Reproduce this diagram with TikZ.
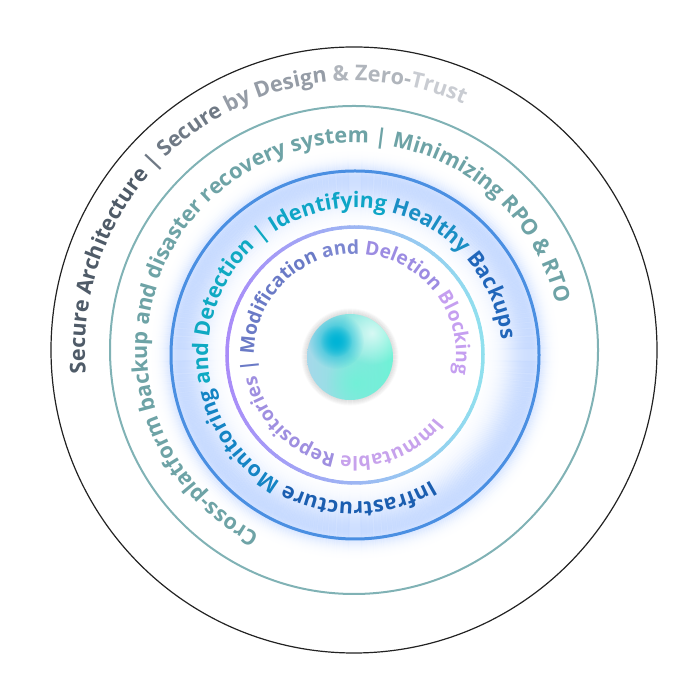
\documentclass[tikz,border=0pt]{standalone}
\usepackage{fontspec}
\setmainfont{Open Sans}
\usetikzlibrary{decorations.text,fadings}

\definecolor{secA}{HTML}{4F5B68}
\definecolor{secB}{HTML}{6F7985}
\definecolor{secC}{HTML}{959CA6}
\definecolor{secD}{HTML}{B0B5BC}
\definecolor{secE}{HTML}{C9CCD2}
\definecolor{tealtxt}{HTML}{6EA3A6}
\definecolor{infA}{HTML}{1B5EB0}
\definecolor{infB}{HTML}{1484C4}
\definecolor{infC}{HTML}{0FA9C2}
\definecolor{infD}{HTML}{0EA5C6}
\definecolor{infE}{HTML}{1A8EC4}
\definecolor{infF}{HTML}{2166BA}
\definecolor{immA}{HTML}{C7A2EC}
\definecolor{immB}{HTML}{9F8FE0}
\definecolor{immC}{HTML}{6A7AC6}
\definecolor{immD}{HTML}{7B86D0}
\definecolor{immE}{HTML}{9C8CE2}
\definecolor{immF}{HTML}{C59FF0}
\definecolor{outerline}{HTML}{222222}
\definecolor{tealline}{HTML}{80B2B5}
\definecolor{blueline}{HTML}{4A8FE2}
\definecolor{innerP}{HTML}{A98CF8}
\definecolor{innerC}{HTML}{90E0EE}
\definecolor{glowblue}{HTML}{C2D7FF}
\definecolor{ballcyan}{HTML}{00B4D6}
\definecolor{ballmint}{HTML}{6EF2D6}
\definecolor{ballblue}{HTML}{A6D8EA}
\definecolor{ballshadow}{HTML}{C8C8C8}

\newcommand{\ringfont}[1]{\bfseries\fontsize{#1}{#1}\selectfont}

\tikzfading[name=softblob, inner color=transparent!0, outer color=transparent!100]

\tikzset{
  ringtext/.style={decorate, decoration={text along path, text align=center,
      text format delimiters={[}{]}, text={#1}}},
  outerring/.style={draw=outerline, line width=1.2pt},
  tealring/.style={draw=tealline, line width=2pt},
  bluering/.style={draw=blueline, line width=3pt},
}

\begin{document}
\begin{tikzpicture}[x=1pt,y=1pt]
  \useasboundingbox (0,0) rectangle (700,700);
  \coordinate (ctr) at (354,350);
  \coordinate (core) at (355,345);
  \coordinate (ball) at (350,343);

  % glow round the blue ring
  \foreach \r in {128,...,218} {
    \pgfmathsetmacro\op{\r<176 ? 0.85*exp(-((\r-176)/24)*((\r-176)/24)) : 0.85*exp(-((\r-176)/13)*((\r-176)/13))}
    \draw[glowblue, line width=1.3pt, opacity=\op] (core) circle (\r);
  }

  \draw[outerring] (ctr) circle (303);
  \draw[tealring] (ctr) circle (244);
  \draw[bluering] (core) circle (184);

  % inner ring, purple to cyan
  \foreach \a in {0,4,...,356} {
    \pgfmathsetmacro\p{50-50*cos(\a+2)}
    \draw[innerP!\p!innerC, line width=3.5pt] (core) ++(\a:128) arc[start angle=\a, delta angle=4.6, radius=128];
  }

  % ring texts
  \path[ringtext={[\ringfont{21.6}\color{secA}]Secure Architecture [\ringfont{21.6}\color{secB}]| Secure [\ringfont{21.6}\color{secC}]by Design [\ringfont{21.6}\color{secD}]{\&} Zero-[\ringfont{21.6}\color{secE}]Trust}]
    (ctr) ++(300.5:269) arc[start angle=300.5, end angle=-49.5, radius=269];
  \path[ringtext={[\ringfont{21.6}\color{tealtxt}]Cross-platform backup and disaster recovery system | Minimizing RPO {\&} RTO}]
    (ctr) ++(302.8:207) arc[start angle=302.8, end angle=-47.2, radius=207];
  \path[ringtext={[\ringfont{21.4}\color{infA}]Infrastructure [\ringfont{21.4}\color{infB}]Monitoring [\ringfont{21.4}\color{infC}]and Detection | [\ringfont{21.4}\color{infD}]Identifying [\ringfont{21.4}\color{infE}]Healthy [\ringfont{21.4}\color{infF}]Backups}]
    (core) ++(328.6:147) arc[start angle=328.6, end angle=-21.4, radius=147];
  \path[ringtext={[\ringfont{19.2}\color{immA}]Immutable [\ringfont{19.2}\color{immB}]Repositories [\ringfont{19.2}\color{immC}]| Modification [\ringfont{19.2}\color{immD}]and [\ringfont{19.2}\color{immE}]Deletion [\ringfont{19.2}\color{immF}]Blocking}]
    (core) ++(334.7:101) arc[start angle=334.7, end angle=-23.3, radius=101];

  % core ball
  \foreach \r in {43,...,49} {
    \pgfmathsetmacro\op{0.55*(49-\r)/6}
    \draw[ballshadow, line width=1.2pt, opacity=\op] (ball) circle (\r);
  }
  \begin{scope}
    \clip (ball) circle (43);
    \shade[left color=ballblue, right color=ballmint] (ball) circle (43);
    \fill[white, opacity=0.7, path fading=softblob] ([shift={(22,24)}]ball) circle (32);
    \fill[ballmint, opacity=0.8, path fading=softblob] ([shift={(6,-26)}]ball) circle (30);
    \fill[ballcyan, path fading=softblob] ([shift={(-14,16)}]ball) circle (28);
    \fill[ballcyan, path fading=softblob] ([shift={(-14,16)}]ball) circle (16);
  \end{scope}
\end{tikzpicture}
\end{document}
